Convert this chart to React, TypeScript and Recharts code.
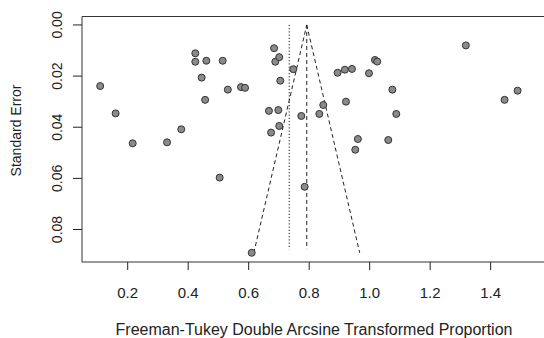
import {
  ComposedChart,
  ReferenceArea,
  ReferenceLine,
  Scatter,
  XAxis,
  YAxis,
} from 'recharts'

// study-level values
const proportions = [
  0.109, 0.16, 0.2165, 0.33, 0.377, 0.4235, 0.4235, 0.4446, 0.456, 0.46, 0.504,
  0.514, 0.531, 0.5745, 0.588, 0.61, 0.667, 0.674, 0.684, 0.688, 0.698, 0.701,
  0.701, 0.7045, 0.7475, 0.774, 0.785, 0.8335, 0.8466, 0.894, 0.918, 0.9216,
  0.9415, 0.9524, 0.961, 0.9977, 1.0175, 1.025, 1.0615, 1.075, 1.088, 1.318,
  1.446, 1.489,
]
const standardErrors = [
  0.0239, 0.0346, 0.0463, 0.0459, 0.0408, 0.0111, 0.0144, 0.0206, 0.0293,
  0.014, 0.0597, 0.014, 0.0253, 0.0243, 0.0246, 0.0891, 0.0336, 0.0421, 0.0091,
  0.0144, 0.0333, 0.0126, 0.0395, 0.0218, 0.0173, 0.0356, 0.0633, 0.0348,
  0.0313, 0.0187, 0.0175, 0.03, 0.0172, 0.0488, 0.0446, 0.0189, 0.0137, 0.0143,
  0.045, 0.0253, 0.0348, 0.008, 0.0293, 0.0257,
]

const xTicks = [0.2, 0.4, 0.6, 0.8, 1.0, 1.2, 1.4]
const yTicks = [0, 0.02, 0.04, 0.06, 0.08]

// pooled estimate (dashed), adjusted estimate (dotted), funnel corners
const pooledEstimate = 0.792
const adjustedEstimate = 0.734
const verticalLineEnd = 0.0877
const funnelApex = { x: 0.792, y: 0 }
const funnelBottom = [
  { x: 0.617, y: 0.0891 },
  { x: 0.967, y: 0.0891 },
]

const xDomain: [number, number] = [0.0489, 1.583]
const yDomain: [number, number] = [-0.0033, 0.0927]

const studies = proportions.map((x, i) => ({ x, y: standardErrors[i] }))

const font = '"Liberation Sans", Arial, Helvetica, sans-serif'

function XTick({ x, y, payload }: any) {
  return (
    <text x={x} y={y + 26} textAnchor="middle" fontSize={15} fill="#222">
      {Number(payload.value).toFixed(1)}
    </text>
  )
}

function YTick({ x, y, payload }: any) {
  return (
    <text
      transform={`translate(${x - 14}, ${y}) rotate(-90)`}
      textAnchor="middle"
      dy="0.36em"
      fontSize={14}
      fill="#222"
    >
      {Number(payload.value).toFixed(2)}
    </text>
  )
}

function StudyDot({ cx, cy }: any) {
  return (
    <circle cx={cx} cy={cy} r={3.5} fill="#8a8a8a" stroke="#333" strokeWidth={1} />
  )
}

export default function App() {
  return (
    <div
      style={{
        position: 'absolute',
        left: 0,
        top: 0,
        width: 544,
        height: 338,
        overflow: 'hidden',
        background: '#fff',
        fontFamily: font,
      }}
    >
      <ComposedChart
        width={560}
        height={338}
        margin={{ top: 16.5, right: 14, bottom: 0, left: 0 }}
      >
        <XAxis
          type="number"
          dataKey="x"
          domain={xDomain}
          ticks={xTicks}
          allowDataOverflow
          axisLine={false}
          tickSize={8}
          tickLine={{ stroke: '#222' }}
          tick={<XTick />}
          height={76}
          label={{
            value: 'Freeman-Tukey Double Arcsine Transformed Proportion',
            position: 'insideBottom',
            offset: 3,
            fontSize: 16,
            fill: '#222',
          }}
        />
        <YAxis
          type="number"
          dataKey="y"
          domain={yDomain}
          ticks={yTicks}
          reversed
          allowDataOverflow
          width={82}
          axisLine={false}
          tickSize={9}
          tickLine={{ stroke: '#222' }}
          tick={<YTick />}
          label={({ viewBox }: any) => (
            <text
              transform={`translate(16, ${viewBox.y + 114}) rotate(-90)`}
              textAnchor="middle"
              dy="0.36em"
              fontSize={14}
              fill="#222"
            >
              Standard Error
            </text>
          )}
        />
        <ReferenceArea
          x1={xDomain[0]}
          x2={xDomain[1]}
          y1={yDomain[0]}
          y2={yDomain[1]}
          fill="none"
          stroke="#333"
          strokeWidth={1}
          ifOverflow="visible"
        />
        <ReferenceLine
          segment={[
            { x: adjustedEstimate, y: 0 },
            { x: adjustedEstimate, y: verticalLineEnd },
          ]}
          stroke="#111"
          strokeDasharray="1.2 2"
        />
        <ReferenceLine
          segment={[
            { x: pooledEstimate, y: 0 },
            { x: pooledEstimate, y: verticalLineEnd },
          ]}
          stroke="#222"
          strokeDasharray="4 3"
        />
        <ReferenceLine
          segment={[funnelBottom[0], funnelApex]}
          stroke="#222"
          strokeDasharray="4 3"
        />
        <ReferenceLine
          segment={[funnelApex, funnelBottom[1]]}
          stroke="#222"
          strokeDasharray="4 3"
        />
        <Scatter
          data={studies}
          shape={<StudyDot />}
          isAnimationActive={false}
        />
      </ComposedChart>
    </div>
  )
}
